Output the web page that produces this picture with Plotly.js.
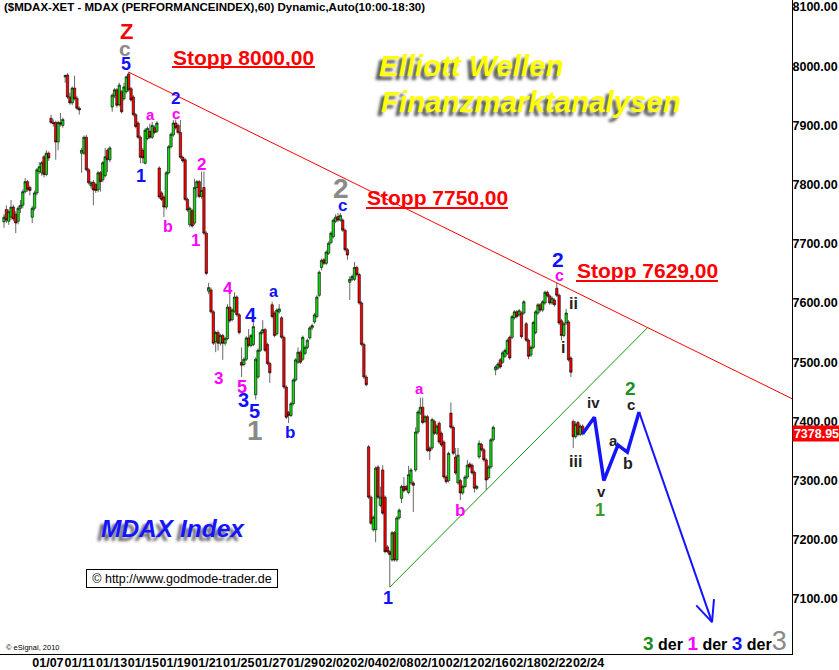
<!DOCTYPE html>
<html>
<head>
<meta charset="utf-8">
<script src="https://cdn.plot.ly/plotly-3.0.1.min.js"></script>
<style>
html,body{margin:0;padding:0;background:#fff;}
#chart{width:839px;height:670px;}
</style>
</head>
<body>
<div id="chart"></div>
<script>
// ---------- DATA (hourly bars, MDAX) ----------
const openP = [7737,7758,7738,7745,7762,7750,7738,7760,7765,7788,7805,7795,7745,7760,7786,7822,7820,7847,7817,7853,
7912,7905,7905,7872,7905,7900,7982,7985,7948,7938,7963,7946,7929,7853,7853,7880,7825,7798,7804,7800,
7791,7820,7808,7815,7858,7842,7931,7950,7960,7935,7957,7945,7957,7987,7962,7948,7918,7904,7880,7858,
7836,7878,7890,7880,7896,7890,7828,7786,7779,7762,7820,7864,7884,7904,7900,7888,7846,7842,7775,7732,
7756,7735,7795,7805,7780,7795,7718,7620,7622,7585,7535,7550,7532,7545,7532,7540,7593,7572,7586,7610,
7580,7500,7496,7505,7541,7528,7530,7445,7475,7520,7550,7555,7530,7498,7597,7583,7548,7585,7575,7542,
7458,7415,7410,7430,7470,7500,7517,7505,7515,7525,7541,7558,7568,7577,7613,7660,7673,7667,7684,7702,
7712,7738,7746,7740,7740,7723,7690,7635,7640,7640,7660,7648,7600,7530,7475,7357,7272,7217,7217,7323,
7258,7318,7272,7188,7180,7166,7212,7166,7237,7270,7290,7290,7280,7296,7296,7318,7382,7414,7424,7400,
7408,7355,7355,7400,7380,7397,7380,7365,7306,7300,7414,7390,7340,7296,7300,7279,7290,7306,7328,7326,
7314,7287,7340,7361,7352,7335,7305,7323,7369,7487,7490,7504,7500,7510,7515,7542,7542,7575,7585,7580,
7583,7583,7565,7537,7512,7525,7550,7583,7597,7588,7600,7618,7612,7600,7605,7625,7613,7570,7545,7566,
7568,7507,7400,7374,7398,7378,7392];
const highP = [7750,7765,7758,7774,7766,7755,7764,7774,7792,7811,7808,7798,7764,7790,7828,7838,7840,7850,7858,7856,
7918,7910,7908,7908,7921,7913,7986,7988,7955,7966,7984,7950,7932,7862,7883,7884,7828,7806,7808,7803,
7823,7823,7840,7862,7861,7865,7954,7963,7963,7972,7960,7972,7984,7990,7965,7951,7921,7907,7883,7862,
7895,7898,7903,7906,7900,7907,7831,7789,7782,7823,7867,7888,7909,7910,7903,7909,7849,7845,7778,7763,
7759,7810,7808,7808,7822,7822,7721,7634,7626,7588,7553,7554,7548,7548,7543,7598,7634,7591,7618,7613,
7583,7525,7508,7544,7556,7548,7571,7508,7523,7553,7571,7558,7533,7501,7602,7586,7591,7598,7578,7545,
7461,7418,7433,7473,7507,7525,7520,7545,7528,7540,7561,7565,7583,7613,7655,7675,7676,7689,7704,7721,
7743,7750,7752,7752,7743,7726,7693,7645,7648,7669,7663,7651,7603,7533,7478,7360,7275,7241,7324,7326,
7290,7326,7275,7191,7183,7215,7215,7240,7253,7293,7306,7293,7325,7321,7299,7390,7419,7440,7440,7411,
7411,7358,7406,7403,7395,7400,7383,7368,7309,7349,7432,7393,7355,7355,7303,7293,7309,7335,7331,7329,
7317,7293,7368,7364,7355,7338,7326,7372,7393,7495,7500,7507,7519,7523,7540,7545,7580,7588,7588,7590,
7586,7605,7568,7540,7528,7570,7588,7600,7600,7605,7621,7621,7615,7611,7608,7634,7616,7573,7568,7590,
7571,7510,7403,7400,7401,7395,7395];
const lowP = [7727,7735,7732,7740,7738,7718,7733,7752,7760,7785,7788,7782,7735,7756,7782,7818,7815,7812,7814,7840,
7902,7898,7842,7858,7898,7896,7972,7945,7935,7934,7942,7926,7918,7820,7850,7822,7800,7793,7765,7786,
7787,7788,7804,7812,7821,7838,7923,7946,7930,7932,7920,7942,7954,7957,7940,7915,7895,7877,7836,7836,
7834,7875,7877,7877,7885,7887,7776,7772,7745,7758,7817,7861,7881,7893,7885,7843,7837,7772,7754,7728,
7727,7732,7778,7777,7776,7715,7647,7615,7582,7529,7517,7520,7528,7504,7528,7537,7567,7569,7583,7577,
7547,7475,7493,7502,7525,7525,7527,7437,7472,7517,7547,7517,7495,7465,7574,7542,7545,7582,7539,7455,
7404,7397,7407,7427,7467,7497,7497,7502,7512,7522,7538,7554,7565,7574,7610,7655,7664,7664,7681,7699,
7709,7735,7737,7737,7720,7687,7673,7605,7637,7637,7645,7597,7527,7472,7459,7269,7225,7214,7196,7269,
7255,7242,7177,7177,7120,7163,7163,7163,7234,7262,7280,7282,7277,7293,7247,7315,7379,7411,7395,7397,
7348,7335,7352,7377,7377,7362,7357,7303,7295,7297,7387,7343,7310,7293,7267,7276,7287,7303,7320,7310,
7280,7284,7337,7349,7332,7284,7302,7320,7366,7478,7487,7489,7497,7507,7512,7504,7539,7572,7574,7577,
7540,7580,7534,7505,7509,7522,7547,7580,7585,7585,7597,7609,7597,7597,7594,7610,7563,7537,7542,7563,
7501,7475,7355,7371,7375,7375,7376];
const closeP = [7745,7740,7754,7762,7742,7735,7760,7765,7788,7805,7792,7790,7760,7786,7825,7830,7837,7817,7853,7845,
7905,7903,7872,7905,7902,7910,7984,7948,7938,7963,7945,7929,7926,7858,7880,7825,7803,7803,7791,7790,
7820,7805,7837,7847,7842,7862,7951,7960,7934,7968,7923,7965,7982,7960,7943,7918,7898,7880,7846,7845,
7892,7895,7880,7900,7888,7904,7779,7775,7762,7820,7864,7885,7904,7896,7888,7846,7840,7775,7757,7760,
7730,7795,7805,7780,7790,7718,7650,7626,7585,7532,7550,7532,7545,7532,7540,7593,7570,7588,7610,7580,
7550,7495,7505,7541,7528,7545,7560,7505,7520,7550,7555,7520,7498,7482,7577,7545,7588,7590,7542,7458,
7407,7410,7430,7470,7504,7517,7500,7542,7525,7537,7558,7562,7580,7610,7652,7672,7667,7686,7701,7718,
7740,7745,7740,7748,7723,7690,7681,7640,7645,7660,7648,7600,7530,7475,7462,7272,7228,7238,7321,7272,
7272,7245,7180,7180,7175,7212,7166,7237,7250,7290,7283,7285,7310,7318,7292,7382,7416,7424,7398,7408,
7351,7350,7403,7380,7392,7365,7360,7306,7298,7346,7390,7346,7313,7343,7279,7290,7306,7326,7323,7313,
7287,7290,7363,7352,7335,7301,7323,7369,7390,7492,7497,7492,7516,7520,7537,7507,7577,7585,7577,7587,
7543,7602,7537,7510,7525,7567,7585,7597,7588,7602,7618,7612,7600,7608,7597,7613,7566,7545,7565,7583,
7504,7483,7374,7395,7378,7392,7378.95];

// x-axis date labels (every second trading day)
const dateLabels = ["01/07","01/11","01/13","01/15","01/19","01/21","01/25","01/27","01/29",
                    "02/02","02/04","02/08","02/10","02/12","02/16","02/18","02/22","02/24"];
// price axis levels
const priceLevels = [7100,7200,7300,7400,7500,7600,7700,7800,7900,8000,8100];

// Elliott projection (future hourly bars after the last bar) : iv, v, a, b, c, target
const projBars   = [0, 5, 9, 15, 19, 24, 55];
const projPrices = [7378.95, 7407, 7300, 7360, 7348, 7416, 7061];

// trend line anchors (bar indices)
const resistAnchors = [53, 235];   // top "5" and top "2 c"
const supportAnchors = [164, 205]; // low "1" and touch in "b"

// ---------- BUILD ----------
const N = closeP.length;
const idx = closeP.map((_, i) => i);
const X0 = -1.7, X1 = 335.0;        // x-range in bar units
const Y0 = 7007.1, Y1 = 8111.8;     // y-range
const PW = 792, PH = 654;           // plot area pixels

const r0 = resistAnchors[0], r1 = resistAnchors[1];
const rSlope = (highP[r1] - highP[r0]) / (r1 - r0);
const resist = i => highP[r0] + rSlope * (i - r0);
const s0 = supportAnchors[0], s1 = supportAnchors[1];
const sSlope = (lowP[s1] - lowP[s0]) / (s1 - s0);
const support = i => lowP[s0] + sSlope * (i - s0);
const iCross = (highP[r0] - rSlope * r0 - lowP[s0] + sSlope * s0) / (sSlope - rSlope);

const last = N - 1;
const pX = projBars.map(b => last + b);

const toPx = (i, p) => [(i - X0) / (X1 - X0) * PW, (Y1 - p) / (Y1 - Y0) * PH];
const toData = (x, y) => [X0 + x / PW * (X1 - X0), Y1 - y / PH * (Y1 - Y0)];
const tip = toPx(pX[6], projPrices[6]);
const tail = toPx(pX[5], projPrices[5]);
const ang = Math.atan2(tail[1] - tip[1], tail[0] - tip[0]);
const barbLen = 23, spread = 0.42;
const b1 = toData(tip[0] + barbLen * Math.cos(ang + spread), tip[1] + barbLen * Math.sin(ang + spread));
const b2 = toData(tip[0] + barbLen * Math.cos(ang - spread), tip[1] + barbLen * Math.sin(ang - spread));

const FONT = 'Liberation Sans, Arial, sans-serif';

const traces = [
  {
    type: 'candlestick', x: idx, open: openP, high: highP, low: lowP, close: closeP,
    increasing: {line: {color: '#000000', width: 0.6}, fillcolor: '#11dd11'},
    decreasing: {line: {color: '#000000', width: 0.6}, fillcolor: '#ff0000'},
    whiskerwidth: 0, hoverinfo: 'skip', showlegend: false
  },
  { type: 'scatter', mode: 'lines', x: [r0, X1], y: [resist(r0), resist(X1)],
    line: {color: '#ff0000', width: 1}, hoverinfo: 'skip' },
  { type: 'scatter', mode: 'lines', x: [s0, iCross], y: [support(s0), support(iCross)],
    line: {color: '#119911', width: 1}, hoverinfo: 'skip' },
  { type: 'scatter', mode: 'lines', x: pX.slice(0, 6), y: projPrices.slice(0, 6),
    line: {color: '#1414ff', width: 3.5}, hoverinfo: 'skip' },
  { type: 'scatter', mode: 'lines', x: [pX[5], pX[6]], y: [projPrices[5], projPrices[6]],
    line: {color: '#1414ff', width: 2}, hoverinfo: 'skip' },
  { type: 'scatter', mode: 'lines', x: [b1[0], pX[6], b2[0]], y: [b1[1], projPrices[6], b2[1]],
    line: {color: '#1414ff', width: 2}, hoverinfo: 'skip' }
];

const px = x => x / PW, py = y => 1 - y / PH;
function lab(t, x, y, color, size, extra) {
  return Object.assign({
    text: '<b>' + t + '</b>', x: px(x), y: py(y), xref: 'paper', yref: 'paper',
    xanchor: 'center', yanchor: 'middle', showarrow: false,
    font: {family: FONT, size: size, color: color}
  }, extra || {});
}
const BLUE = '#1010ff', MAG = '#ff00ff', GRAY = '#8a8a8a', RED = '#ff0000', BLK = '#222222';

const annotations = [
  {text: '<b>($MDAX-XET - MDAX (PERFORMANCEINDEX),60) Dynamic,Auto(10:00-18:30)</b>', x: px(2), y: py(7),
   xref: 'paper', yref: 'paper', xanchor: 'left', yanchor: 'middle', showarrow: false,
   font: {family: FONT, size: 11.5, color: '#000'}},
  lab('Stopp 8000,00', 243, 58, RED, 21),
  lab('Stopp 7750,00', 437, 198, RED, 21),
  lab('Stopp 7629,00', 647, 271, RED, 21),
  {text: '<b><i>Elliott Wellen</i></b>', x: px(377), y: py(65), xref: 'paper', yref: 'paper',
   xanchor: 'left', yanchor: 'middle', showarrow: false,
   font: {family: FONT, size: 29.5, color: '#ffff00', shadow: '-4px 4px 3px #555'}},
  {text: '<b><i>Finanzmarktanalysen</i></b>', x: px(379), y: py(101), xref: 'paper', yref: 'paper',
   xanchor: 'left', yanchor: 'middle', showarrow: false,
   font: {family: FONT, size: 29.5, color: '#ffff00', shadow: '-4px 4px 3px #555'}},
  {text: '<b><i>MDAX Index</i></b>', x: px(99), y: py(528), xref: 'paper', yref: 'paper',
   xanchor: 'left', yanchor: 'middle', showarrow: false,
   font: {family: FONT, size: 24.5, color: '#1414ff', shadow: '-4px 4px 3px #666'}},
  {text: '© http://www.godmode-trader.de', x: px(182), y: py(578.5), xref: 'paper', yref: 'paper',
   xanchor: 'center', yanchor: 'middle', showarrow: false, width: 188, height: 15,
   bordercolor: '#000', borderwidth: 1, borderpad: 1, bgcolor: '#fff',
   font: {family: FONT, size: 12.5, color: '#000'}},
  {text: '© eSignal, 2010', x: px(4), y: py(647), xref: 'paper', yref: 'paper',
   xanchor: 'left', yanchor: 'middle', showarrow: false,
   font: {family: FONT, size: 7.5, color: '#000'}},
  {text: '<b><span style="color:#1a8c1a;font-size:19px">3</span> der <span style="color:#ff00ff;font-size:19px">1</span> der <span style="color:#1010ff;font-size:19px">3</span> der</b><span style="color:#8a8a8a;font-size:27px">3</span>',
   x: px(789), y: py(641), xref: 'paper', yref: 'paper', xanchor: 'right', yanchor: 'middle', showarrow: false,
   font: {family: FONT, size: 16, color: '#000'}},
  lab('Z', 126, 31, RED, 22),
  lab('c', 125, 48, GRAY, 21),
  lab('5', 126, 64, BLUE, 18),
  lab('2', 175, 99, BLUE, 17),
  lab('c', 176, 113, MAG, 15),
  lab('a', 150, 114, MAG, 15),
  lab('1', 141, 176, BLUE, 18),
  lab('2', 201, 165, MAG, 17),
  lab('b', 168, 226, MAG, 16),
  lab('1', 195, 240, MAG, 17),
  lab('4', 228, 288, MAG, 17),
  lab('3', 219, 378, MAG, 17),
  lab('5', 242, 387, MAG, 18),
  lab('3', 243, 400, BLUE, 20),
  lab('4', 251, 315, BLUE, 20),
  lab('5', 254, 411, BLUE, 20),
  lab('1', 255, 430, GRAY, 28),
  lab('a', 273, 291, BLUE, 16),
  lab('b', 290, 432, BLUE, 17),
  lab('2', 341, 189, GRAY, 28),
  lab('c', 342, 205, BLUE, 17),
  lab('a', 419, 388, MAG, 15),
  lab('b', 460, 510, MAG, 17),
  lab('1', 388, 598, BLUE, 18),
  lab('2', 558, 259, BLUE, 21),
  lab('c', 559, 275, MAG, 16),
  lab('ii', 573, 303, BLK, 16),
  lab('i', 563, 347, BLK, 16),
  lab('iii', 575, 461, BLK, 16),
  lab('iv', 593, 402, BLK, 15),
  lab('v', 601, 491, BLK, 15),
  lab('1', 600, 510, '#3a9a2a', 18),
  lab('2', 630, 388, '#1f8f1f', 19),
  lab('c', 631, 404, BLK, 15),
  lab('a', 613, 441, BLK, 15),
  lab('b', 628, 463, BLK, 16),
  {text: '<b>' + closeP[last].toFixed(2) + '</b>', x: 1, y: closeP[last], xref: 'paper', yref: 'y',
   xanchor: 'left', yanchor: 'middle', showarrow: false, bgcolor: '#ff0000', borderpad: 1,
   width: 45, height: 13, font: {family: FONT, size: 12.5, color: '#ffffff'}}
];

const ul = (x0, x1, y) => ({type: 'line', xref: 'paper', yref: 'paper', x0: px(x0), x1: px(x1),
  y0: py(y), y1: py(y), line: {color: RED, width: 2}});
const shapes = [ul(172, 315, 67), ul(366, 508, 208), ul(576, 718, 281)];

const step = 13.52, first = 18.67;
const layout = {
  width: 839, height: 670,
  margin: {l: 0, r: 47, t: 0, b: 16, pad: 0},
  paper_bgcolor: '#ffffff', plot_bgcolor: '#ffffff',
  showlegend: false, boxgap: 0, boxgroupgap: 0,
  xaxis: {
    range: [X0, X1], showgrid: false, zeroline: false, showline: true, linecolor: '#000', linewidth: 1,
    tickvals: dateLabels.map((_, k) => first + step * k),
    ticktext: dateLabels.map(s => '<b>' + s + '</b>'),
    ticks: '', tickangle: 0, ticklabelstandoff: -3, tickfont: {family: FONT, size: 12.5, color: '#000'},
    rangeslider: {visible: false}, fixedrange: true
  },
  yaxis: {
    range: [Y0, Y1], side: 'right', showgrid: false, zeroline: false, showline: true,
    linecolor: '#000', linewidth: 1,
    tickvals: priceLevels, ticktext: priceLevels.map(v => '<b>' + v.toFixed(2) + '</b>'),
    ticks: '', ticklabelstandoff: -3, tickfont: {family: FONT, size: 12.5, color: '#000'}, fixedrange: true
  },
  annotations: annotations,
  shapes: shapes
};

Plotly.newPlot('chart', traces, layout, {staticPlot: true, displayModeBar: false});
</script>
</body>
</html>
